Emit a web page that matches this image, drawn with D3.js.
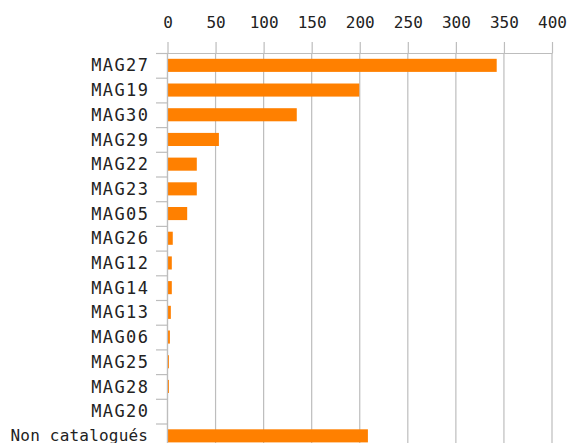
<!DOCTYPE html>
<html>
<head>
<meta charset="utf-8">
<script src="https://cdn.jsdelivr.net/npm/d3@7"></script>
<style>
  html, body { margin: 0; padding: 0; background: #fff; }
  svg { display: block; }
</style>
</head>
<body>
<svg id="chart" width="568" height="443"></svg>
<script>
const categories = ["MAG27","MAG19","MAG30","MAG29","MAG22","MAG23","MAG05","MAG26","MAG12","MAG14","MAG13","MAG06","MAG25","MAG28","MAG20","Non catalogués"];
const values = [343, 200, 135, 54, 31, 31, 21, 6, 5, 5, 4, 3, 2, 2, 1, 209];
const xTicks = [0, 50, 100, 150, 200, 250, 300, 350, 400];

(function () {
const svg = d3.select("#chart");
const W = 568, H = 443;
const mLeft = 167, mRight = 551.5, mTop = 53;
const step = 24.7;
const pIn = 0.47, pOut = 0.235;
const gridColor = "#bdbdbd";
const font = "'DejaVu Sans Mono', monospace";

const x = d3.scaleLinear().domain([0, 400]).range([mLeft, mRight]);
const y = d3.scaleBand().domain(categories)
  .range([mTop, mTop + step * categories.length])
  .paddingInner(pIn).paddingOuter(pOut);

// gridlines
svg.append("g").selectAll("line").data(xTicks).join("line")
  .attr("x1", d => x(d) + 0.5).attr("x2", d => x(d) + 0.5)
  .attr("y1", mTop).attr("y2", H)
  .attr("stroke", gridColor).attr("stroke-width", 1.2);

// bars
svg.append("g").selectAll("rect").data(categories).join("rect")
  .attr("x", x(0))
  .attr("y", d => y(d))
  .attr("width", (d, i) => Math.max(0, x(values[i]) - x(0)))
  .attr("height", y.bandwidth())
  .attr("fill", "#ff8000");

// top axis
const xAxis = d3.axisTop(x).tickValues(xTicks).tickSize(11).tickSizeOuter(0).tickPadding(14).tickFormat(d3.format("d"));
const gx = svg.append("g").attr("transform", `translate(0.5,${mTop})`).call(xAxis);
gx.select(".domain").attr("stroke", gridColor).attr("stroke-width", 1.2);
gx.selectAll(".tick line").attr("stroke", gridColor).attr("stroke-width", 1.2);
gx.selectAll(".tick text").attr("font-family", font).attr("font-size", 16).attr("fill", "#222");

// y axis line
svg.append("line")
  .attr("x1", x(0) + 0.5).attr("x2", x(0) + 0.5)
  .attr("y1", mTop).attr("y2", H)
  .attr("stroke", gridColor).attr("stroke-width", 1.2);

// y ticks at band boundaries
svg.append("g").selectAll("line").data(categories).join("line")
  .attr("x1", x(0) - 11).attr("x2", x(0) + 0.5)
  .attr("y1", d => y(d) - y.step() * pIn / 2 + 0.5)
  .attr("y2", d => y(d) - y.step() * pIn / 2 + 0.5)
  .attr("stroke", gridColor).attr("stroke-width", 1.2);

// y labels
svg.append("g").selectAll("text").data(categories).join("text")
  .attr("x", d => d.startsWith("MAG") ? 149.4 : 148.2)
  .attr("y", d => y(d) + y.bandwidth() / 2)
  .attr("dy", d => d.startsWith("MAG") ? "0.36em" : "0.3em")
  .attr("text-anchor", "end")
  .attr("font-family", font)
  .attr("font-size", d => d.startsWith("MAG") ? 17 : 16)
  .attr("letter-spacing", d => d.startsWith("MAG") ? "1.4px" : "0.2px")
  .attr("fill", "#222")
  .text(d => d);
})();
</script>
</body>
</html>
